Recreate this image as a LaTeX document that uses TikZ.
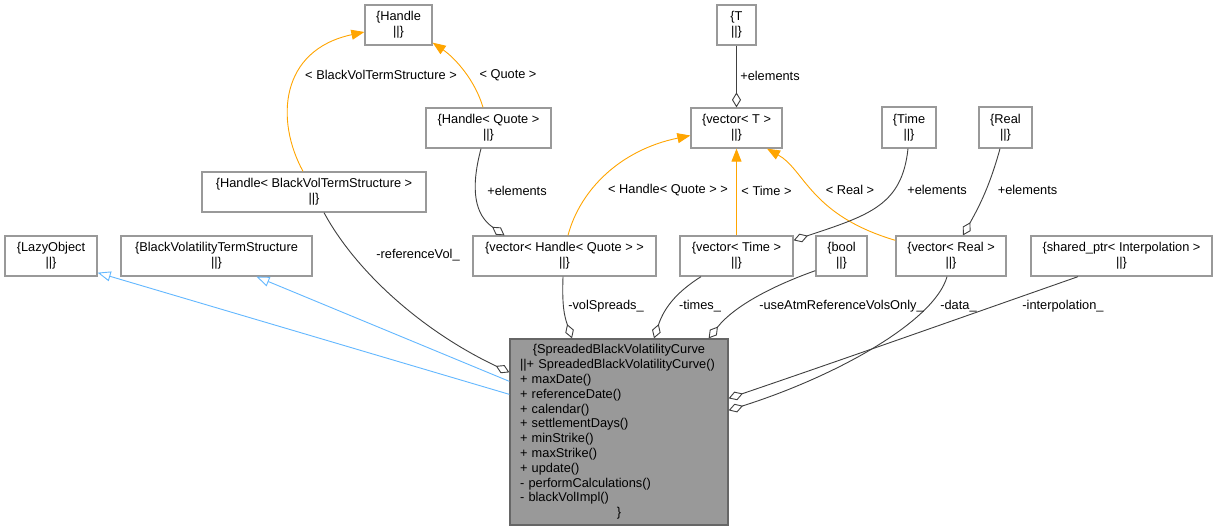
\documentclass[tikz,border=0pt]{standalone}
\usepackage{fontspec}
\setmainfont{Liberation Sans}
\usetikzlibrary{arrows.meta}
\definecolor{boxgray}{HTML}{999999}
\definecolor{maingray}{HTML}{999999}
\definecolor{mainborder}{HTML}{666666}
\definecolor{edgedark}{HTML}{404040}
\definecolor{inhblue}{HTML}{63B8FF}
\definecolor{tmplorange}{HTML}{FFA500}
\begin{document}
\begin{tikzpicture}[x=1pt,y=-1pt,
  font=\fontsize{12.8}{14.8}\selectfont,
  box/.style={draw=boxgray, line width=1.3pt, fill=white, align=center, inner sep=0pt, minimum height=40pt},
  mainbox/.style={draw=mainborder, line width=1.3pt, fill=maingray, align=left, inner xsep=10pt, inner ysep=0pt,
    minimum width=218pt, minimum height=186pt, text width=198pt},
  lbl/.style={inner sep=0pt},
  inh/.style={draw=inhblue, line width=0.9pt, {Triangle[open, fill=white, length=13pt, width=10pt]}-},
  tmpl/.style={draw=tmplorange, line width=0.9pt, -{Triangle[length=13pt, width=10pt]}},
  usage/.style={draw=edgedark, line width=0.9pt, -{Diamond[open, fill=white, length=15pt, width=9pt]}}
]
\useasboundingbox (0,0) rectangle (1218,531);
\fill[white] (0,0) rectangle (1218,531);

% nodes
\node[box, minimum width=67pt] (handle) at (398.5,25) {\{Handle\\||\}};
\node[box, minimum width=125pt] (hquote) at (488.5,128) {\{Handle< Quote >\\||\}};
\node[box, minimum width=39pt] (T) at (736.5,25) {\{T\\||\}};
\node[box, minimum width=91pt] (vecT) at (736.5,128) {\{vector< T >\\||\}};
\node[box, minimum width=54pt, minimum height=41pt] (time) at (909,127.5) {\{Time\\||\}};
\node[box, minimum width=53pt, minimum height=41pt] (real) at (1005.5,127.5) {\{Real\\||\}};
\node[box, minimum width=224pt] (hbvts) at (314,192) {\{Handle< BlackVolTermStructure >\\||\}};
\node[box, minimum width=92pt] (lazy) at (51,256) {\{LazyObject\\||\}};
\node[box, minimum width=191pt] (bvts) at (216.5,256) {\{BlackVolatilityTermStructure\\||\}};
\node[box, minimum width=183pt] (vhq) at (564.5,256) {\{vector< Handle< Quote > >\\||\}};
\node[box, minimum width=113pt] (vtime) at (736.5,256) {\{vector< Time >\\||\}};
\node[box, minimum width=51pt] (bool) at (841.5,256) {\{bool\\||\}};
\node[box, minimum width=110pt] (vreal) at (951,256) {\{vector< Real >\\||\}};
\node[box, minimum width=181pt] (sptr) at (1121.5,256) {\{shared\_ptr< Interpolation >\\||\}};
\node[mainbox] (main) at (619,432) {\makebox[198pt][c]{\{SpreadedBlackVolatilityCurve}\\
||+ SpreadedBlackVolatilityCurve()\\
+ maxDate()\\
+ referenceDate()\\
+ calendar()\\
+ settlementDays()\\
+ minStrike()\\
+ maxStrike()\\
+ update()\\
- performCalculations()\\
- blackVolImpl()\\
\makebox[198pt][c]{\}}};

% inheritance
\draw[inh] ([yshift=4pt]lazy.south east) -- ([yshift=-56pt]main.north west);
\draw[inh] ([xshift=40pt]bvts.south) -- ([yshift=-43pt]main.north west);

% template instantiations
\draw[tmpl] ([xshift=-11pt]hbvts.north) .. controls (275,120) and (280,50) .. ([yshift=-7pt]handle.west);
\draw[tmpl] ([xshift=-5.5pt]hquote.north) .. controls (475,80) and (455,58) .. ([yshift=3pt]handle.south east);
\draw[tmpl] ([xshift=3.5pt]vhq.north) .. controls (580,190) and (620,150) .. ([yshift=-7.5pt]vecT.west);
\draw[tmpl] (vtime.north) -- (vecT.south);
\draw[tmpl] ([yshift=-5pt]vreal.north west) .. controls (810,215) and (805,170) .. ([xshift=30.5pt]vecT.south);

% usage
\draw[usage] (T.south) -- (vecT.north);
\draw[usage] ([xshift=-7.5pt]hquote.south) .. controls (470,190) and (475,215) .. ([xshift=-60pt]vhq.north);
\draw[usage] ([xshift=-1pt]time.south) .. controls (902,205) and (870,215) .. ([yshift=-5pt]vtime.north east);
\draw[usage] ([xshift=-5.5pt]real.south) .. controls (990,185) and (980,205) .. ([xshift=12pt]vreal.north);
\draw[usage] ([xshift=10pt]hbvts.south) .. controls (355,270) and (420,330) .. ([yshift=-34pt]main.north west);
\draw[usage] ([xshift=-1.5pt]vhq.south) .. controls (562,305) and (564,315) .. ([xshift=-47pt]main.north);
\draw[usage] ([xshift=-35.5pt]vtime.south) .. controls (680,290) and (665,305) .. ([xshift=35pt]main.north);
\draw[usage] ([yshift=6pt]bool.south west) .. controls (775,285) and (735,305) .. ([xshift=-20pt]main.north east);
\draw[usage] ([xshift=-4pt]vreal.south) .. controls (935,320) and (840,375) .. ([yshift=-72pt]main.north east);
\draw[usage] ([xshift=-43.5pt]sptr.south) .. controls (960,318) and (850,357) .. ([yshift=-60pt]main.north east);

% labels
\node[lbl] (l1) at (381,75) {< BlackVolTermStructure >};
\node[lbl] (l2) at (508,75) {< Quote >};
\node[lbl] (l3) at (770,76) {+elements};
\node[lbl] (l4) at (517,190.5) {+elements};
\node[lbl] (l5) at (668,190.5) {< Handle< Quote > >};
\node[lbl] (l6) at (766.5,190.5) {< Time >};
\node[lbl] (l7) at (850,190) {< Real >};
\node[lbl] (l8) at (937,190) {+elements};
\node[lbl] (l9) at (1027.5,190) {+elements};
\node[lbl] (l10) at (418,255) {-referenceVol\_};
\node[lbl] (l11) at (606,306.5) {-volSpreads\_};
\node[lbl] (l12) at (700,306.5) {-times\_};
\node[lbl] (l13) at (841.5,306.5) {-useAtmReferenceVolsOnly\_};
\node[lbl] (l14) at (958.5,306.5) {-data\_};
\node[lbl] (l15) at (1063,306.5) {-interpolation\_};
\end{tikzpicture}
\end{document}
